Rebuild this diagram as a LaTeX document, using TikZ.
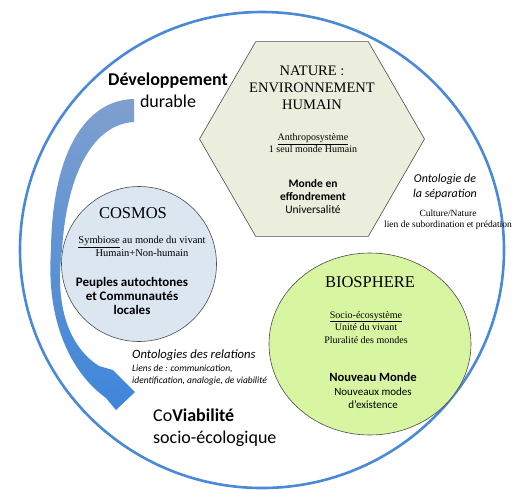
\documentclass[tikz,border=0pt]{standalone}
\usepackage{fontspec}
\setmainfont{Liberation Serif}
\newfontfamily\carlito{Carlito}
\usetikzlibrary{shapes.geometric}

\definecolor{anneau}{HTML}{4A88D8}
\definecolor{hexfond}{HTML}{EBEEDC}
\definecolor{cosmosfond}{HTML}{DCE6F1}
\definecolor{biofond}{HTML}{D8F5A2}
\definecolor{flechehaut}{HTML}{7F9FCE}
\definecolor{flechebas}{HTML}{3E86DA}

\begin{document}
\begin{tikzpicture}[x=1pt, y=-1pt,
		forme/.style={draw=black!70, line width=0.6pt, inner sep=0pt},
		texte/.style={align=center, inner sep=0pt, anchor=base},
		gauche/.style={align=left, inner sep=0pt, anchor=base west}]
		\useasboundingbox (0,0) rectangle (512,490);
		% Draw outer ring
		\draw[anneau, line width=2.6pt] (262,250) ellipse [x radius=242, y radius=238];
		% Draw curved arrow
		\shade[top color=flechehaut, bottom color=flechebas] (134,99) .. controls (84,100) and (52,155) .. (51,250) .. controls (46,320) and (70,372) .. (106,398) -- (116,410) -- (135,392) -- (113,370) -- (99,366) .. controls (66,345) and (55,300) .. (62,250) .. controls (67,170) and (95,124) .. (134,122) -- cycle;
		
		% Draw the three worlds
		\node[forme, regular polygon, regular polygon sides=6, minimum size=225pt, fill=hexfond] (nature) at (312,139) {};
		\node[forme, circle, minimum size=155pt, fill=cosmosfond] (cosmos) at (139,264) {};
		\node[forme, ellipse, minimum width=202pt, minimum height=182pt, fill=biofond] (biosphere) at (370,344) {};
		
		% Texts (base = last line)
		\node[texte, font=\carlito\fontsize{18}{22}\selectfont] (dev) at (168,107) {\textbf{Développement}\\durable};
		\node[texte, font=\fontsize{14.5}{17}\selectfont] (titrenature) at (312,109) {NATURE :\\ENVIRONNEMENT\\HUMAIN};
		\node[texte, font=\fontsize{10}{11.5}\selectfont] (anthropo) at (313,152) {\underline{Anthroposystème}\\1 seul monde Humain};
		\node[texte, font=\carlito\fontsize{11.5}{13}\selectfont] (effondrement) at (313,213) {\textbf{Monde en}\\\textbf{effondrement}\\Universalité};
		
		\node[texte, font=\fontsize{16.5}{19}\selectfont] (titrecosmos) at (133,218) {COSMOS};
		\node[texte, font=\fontsize{10.5}{11}\selectfont] (symbiose) at (142,256) {\underline{Symbiose} au monde du vivant\\Humain+Non-humain};
		\node[texte, font=\carlito\bfseries\fontsize{13}{14}\selectfont] (peuples) at (132,314) {Peuples autochtones\\et Communautés\\locales};
		
		\node[texte, font=\fontsize{16.5}{19}\selectfont] (titrebio) at (370,287) {BIOSPHERE};
		\node[texte, font=\fontsize{10}{12.5}\selectfont] (socio) at (366,343) {\underline{Socio-écosystème}\\Unité du vivant\\Pluralité des mondes};
		\node[texte, font=\carlito\bfseries\fontsize{12.6}{14}\selectfont] (nouveau) at (373,381) {Nouveau Monde};
		\node[texte, font=\carlito\fontsize{11}{12.5}\selectfont] (modes) at (373,408) {Nouveaux modes\\d’existence};
		
		\node[texte, font=\carlito\itshape\fontsize{12}{14.5}\selectfont] (separation) at (445,197) {Ontologie de\\la séparation};
		\node[texte, font=\fontsize{9.5}{11}\selectfont] (culture) at (448,227) {Culture/Nature\\lien de subordination et prédation};
		
		\node[gauche, font=\carlito\itshape\fontsize{12.7}{14}\selectfont] (relations) at (132,358) {Ontologies des relations};
		\node[gauche, font=\carlito\itshape\fontsize{9.5}{12}\selectfont] (liens) at (132,383) {Liens de : communication,\\identification, analogie, de viabilité};
		\node[gauche, font=\carlito\fontsize{18}{22}\selectfont] (coviab) at (153,443) {Co\textbf{Viabilité}\\socio-écologique};
	\end{tikzpicture}
\end{document}
